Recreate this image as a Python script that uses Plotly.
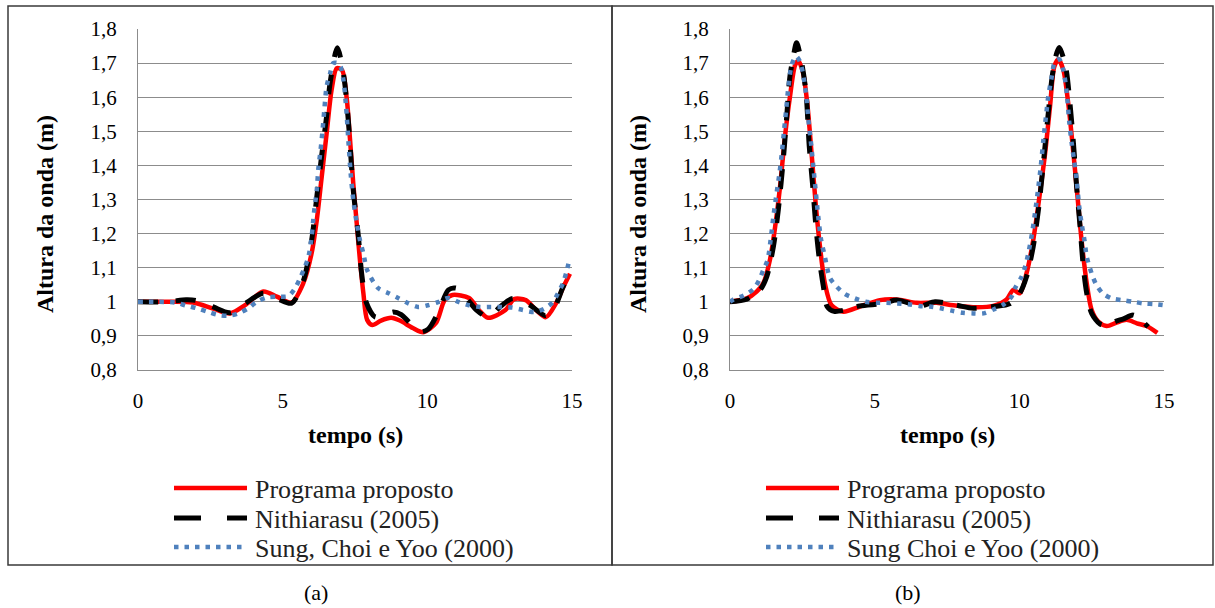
import numpy as np
import plotly.graph_objects as go

# ---------------- data: panel (a) ----------------
a_prog_t = [0, 1.0, 1.9, 2.6, 3.18, 3.7, 4.33, 4.8, 5.31, 5.71, 6.0, 6.18, 6.35, 6.52, 6.69, 6.87, 7.05,
            7.21, 7.33, 7.44, 7.56, 7.67, 7.79, 7.92, 8.1, 8.4, 8.75, 9.05, 9.5, 9.86, 10.3, 10.6, 10.87,
            11.44, 11.78, 12.1, 12.7, 13.0, 13.4, 13.76, 14.1, 14.45, 14.7, 14.93]
a_prog_h = [1.0, 1.0, 0.998, 0.98, 0.966, 0.99, 1.03, 1.015, 0.998, 1.054, 1.142, 1.24, 1.367, 1.494, 1.621,
            1.685, 1.68, 1.60, 1.474, 1.347, 1.23, 1.123, 1.025, 0.947, 0.932, 0.945, 0.953, 0.945, 0.923,
            0.911, 0.938, 1.005, 1.02, 1.011, 0.976, 0.953, 0.976, 1.008, 1.005, 0.976, 0.955, 0.996, 1.043,
            1.082]

a_nith_t = [0, 1.0, 1.66, 2.0, 2.6, 3.18, 3.7, 4.33, 4.8, 5.31, 5.71, 6.0, 6.18, 6.35, 6.52, 6.64, 6.89,
            7.1, 7.27, 7.44, 7.62, 7.73, 7.9, 8.19, 8.5, 8.82, 9.1, 9.35, 9.75, 10.03, 10.38, 10.73, 11.0,
            11.36, 11.71, 12.11, 12.51, 12.95, 13.55, 14.07, 14.35, 14.7, 14.93]
a_nith_h = [1.0, 1.0, 1.006, 1.004, 0.985, 0.968, 0.995, 1.025, 1.01, 0.996, 1.06, 1.18, 1.308, 1.43, 1.545,
            1.643, 1.745, 1.67, 1.53, 1.328, 1.19, 1.083, 0.996, 0.956, 0.958, 0.970, 0.962, 0.942, 0.912,
            0.92, 0.97, 1.035, 1.04, 1.01, 0.975, 0.955, 0.985, 1.01, 0.99, 0.96, 0.975, 1.045, 1.08]

a_sung_t = [0, 0.55, 1.28, 1.66, 2.03, 2.40, 2.74, 3.12, 3.47, 3.81, 4.10, 4.45, 4.85, 5.20, 5.43, 5.60,
            5.75, 5.89, 6.00, 6.08, 6.18, 6.23, 6.31, 6.38, 6.44, 6.52, 6.64, 6.75, 6.9, 7.0, 7.10, 7.19,
            7.27, 7.35, 7.44, 7.56, 7.67, 7.79, 7.92, 8.3, 8.64, 8.99, 9.33, 9.68, 10.02, 10.37, 10.72,
            11.1, 11.44, 11.82, 12.2, 12.58, 12.93, 13.3, 13.69, 14.03, 14.34, 14.52, 14.69, 14.8, 14.9]
a_sung_h = [1.0, 1.0, 0.998, 0.989, 0.981, 0.971, 0.962, 0.959, 0.966, 0.981, 1.0, 1.013, 1.015, 1.017,
            1.04, 1.069, 1.098, 1.132, 1.19, 1.26, 1.328, 1.387, 1.445, 1.504, 1.563, 1.632, 1.67, 1.70,
            1.70, 1.69, 1.65, 1.574, 1.474, 1.377, 1.299, 1.231, 1.181, 1.142, 1.093, 1.04, 1.026, 1.011,
            0.996, 0.985, 0.99, 0.999, 1.011, 0.999, 0.99, 0.985, 0.985, 0.985, 0.983, 0.976, 0.97, 0.979,
            0.999, 1.026, 1.055, 1.085, 1.12]

# ---------------- data: panel (b) ----------------
b_prog_t = [0, 0.58, 0.92, 1.15, 1.38, 1.56, 1.73, 1.90, 2.07, 2.25, 2.36, 2.53, 2.67, 2.82, 2.97, 3.11,
            3.28, 3.51, 3.92, 4.49, 5.18, 5.76, 6.45, 7.14, 7.72, 8.53, 9.10, 9.56, 9.79, 10.02, 10.25,
            10.48, 10.71, 10.89, 11.06, 11.21, 11.35, 11.52, 11.69, 11.87, 12.0, 12.15, 12.33, 12.50,
            12.73, 13.02, 13.36, 13.71, 14.06, 14.40, 14.77]
b_prog_h = [1.0, 1.01, 1.03, 1.054, 1.123, 1.22, 1.338, 1.484, 1.60, 1.694, 1.707, 1.67, 1.582, 1.435,
            1.279, 1.162, 1.054, 0.99, 0.971, 0.986, 1.005, 1.007, 0.997, 0.997, 0.99, 0.984, 0.988, 1.007,
            1.035, 1.025, 1.084, 1.181, 1.318, 1.435, 1.572, 1.69, 1.711, 1.68, 1.582, 1.435, 1.318, 1.181,
            1.054, 0.976, 0.942, 0.929, 0.939, 0.947, 0.937, 0.929, 0.909]

b_nith_t = [0, 0.58, 1.04, 1.27, 1.50, 1.67, 1.84, 1.96, 2.07, 2.21, 2.30, 2.48, 2.63, 2.74, 2.86, 2.97,
            3.09, 3.23, 3.36, 3.6, 3.97, 4.49, 5.3, 5.76, 6.57, 7.09, 7.83, 8.41, 9.10, 9.68, 10.02, 10.25,
            10.48, 10.66, 10.83, 11.0, 11.15, 11.29, 11.38, 11.6, 11.75, 11.87, 11.98, 12.1, 12.21, 12.33,
            12.5, 12.79, 13.07, 13.31, 13.6, 13.94, 14.45]
b_nith_h = [1.0, 1.008, 1.035, 1.074, 1.162, 1.27, 1.416, 1.543, 1.66, 1.729, 1.76, 1.70, 1.61, 1.455,
            1.338, 1.22, 1.123, 1.044, 0.986, 0.972, 0.976, 0.988, 0.995, 1.005, 0.988, 1.0, 0.99, 0.981,
            0.986, 0.995, 1.026, 1.074, 1.162, 1.27, 1.406, 1.553, 1.67, 1.729, 1.746, 1.69, 1.582, 1.465,
            1.338, 1.22, 1.103, 1.025, 0.966, 0.935, 0.932, 0.942, 0.95, 0.961, 0.927]

b_sung_t = [0, 0.12, 0.48, 0.81, 1.01, 1.15, 1.30, 1.41, 1.50, 1.61, 1.71, 1.79, 1.87, 1.94, 2.02, 2.13,
            2.28, 2.42, 2.56, 2.65, 2.71, 2.79, 2.88, 2.97, 3.05, 3.15, 3.28, 3.36, 3.46, 3.69, 3.97, 4.32,
            4.69, 5.07, 5.41, 5.79, 6.16, 6.54, 6.91, 7.28, 7.66, 8.04, 8.41, 8.76, 9.12, 9.42, 9.73, 9.85,
            10.08, 10.2, 10.31, 10.43, 10.54, 10.66, 10.74, 10.83, 10.92, 11.0, 11.12, 11.23, 11.38, 11.52,
            11.64, 11.73, 11.81, 11.89, 11.98, 12.07, 12.15, 12.25, 12.33, 12.5, 12.65, 12.88, 13.19,
            13.54, 13.94, 14.31, 14.69, 15.0]
b_sung_h = [1.0, 1.007, 1.019, 1.037, 1.064, 1.093, 1.123, 1.186, 1.25, 1.318, 1.377, 1.435, 1.504, 1.562,
            1.631, 1.694, 1.72, 1.704, 1.65, 1.592, 1.533, 1.474, 1.396, 1.318, 1.25, 1.181, 1.132, 1.098,
            1.069, 1.044, 1.023, 1.01, 1.0, 0.997, 0.997, 0.995, 0.993, 0.988, 0.986, 0.981, 0.974, 0.968,
            0.966, 0.966, 0.978, 0.99, 1.015, 1.04, 1.074, 1.103, 1.142, 1.196, 1.26, 1.338, 1.396, 1.474,
            1.543, 1.602, 1.66, 1.704, 1.711, 1.68, 1.611, 1.523, 1.465, 1.416, 1.357, 1.279, 1.23, 1.181,
            1.132, 1.083, 1.052, 1.025, 1.01, 1.005, 1.0, 0.995, 0.993, 0.99]

series_names_a = ["Programa proposto", "Nithiarasu (2005)", "Sung, Choi e Yoo (2000)"]
series_names_b = ["Programa proposto", "Nithiarasu (2005)", "Sung Choi e Yoo (2000)"]
y_ticks = [0.8, 0.9, 1.0, 1.1, 1.2, 1.3, 1.4, 1.5, 1.6, 1.7, 1.8]
x_ticks = [0, 5, 10, 15]
captions = ["(a)", "(b)"]
x_title = "tempo (s)"
y_title = "Altura da onda (m)"

# ---------------- styling ----------------
W, H = 1215, 608
FONT = "'Liberation Serif', 'Times New Roman', Times, serif"
RED, BLACK, BLUE = "#FF0000", "#000000", "#4F81BD"
GRID = "#8C8C8C"
SMOOTH = 0.8
PLOT_L = [138, 730]
PLOT_W = 434
PLOT_T, PLOT_B = 29, 370
DASH_ON = 20.0


def px(x):
    return x / W


def py(y):
    return 1 - y / H


def spline_lengths(ts, vs, smooth):
    """Cumulative length (px) of plotly's open spline at every knot, to phase the dash pattern."""
    sx = PLOT_W / 15.0
    sy = (PLOT_B - PLOT_T) / 1.0
    pts = np.array([[t * sx, (1.8 - v) * sy] for t, v in zip(ts, vs)])
    n = len(pts)
    tang = []
    for i in range(1, n - 1):
        d1 = pts[i - 1] - pts[i]
        d2 = pts[i + 1] - pts[i]
        d1a = np.hypot(*d1) ** 0.5
        d2a = np.hypot(*d2) ** 0.5
        num = (d2a * d2a * d1 - d1a * d1a * d2) * smooth
        den1 = 3 * d2a * (d1a + d2a)
        den2 = 3 * d1a * (d1a + d2a)
        tang.append((pts[i] + num / den1, pts[i] - num / den2))
    u = np.linspace(0, 1, 400)[:, None]
    cum = [0.0]

    def seglen(curve):
        return float(np.sum(np.hypot(*np.diff(curve, axis=0).T)))

    q = (1 - u) ** 2 * pts[0] + 2 * (1 - u) * u * tang[0][0] + u ** 2 * pts[1]
    cum.append(cum[-1] + seglen(q))
    for i in range(2, n - 1):
        c = ((1 - u) ** 3 * pts[i - 1] + 3 * (1 - u) ** 2 * u * tang[i - 2][1]
             + 3 * (1 - u) * u ** 2 * tang[i - 1][0] + u ** 3 * pts[i])
        cum.append(cum[-1] + seglen(c))
    q = (1 - u) ** 2 * pts[n - 2] + 2 * (1 - u) * u * tang[n - 3][1] + u ** 2 * pts[n - 1]
    cum.append(cum[-1] + seglen(q))
    return cum


def phased_dash(ts, vs, n_peaks):
    """Pick a gap so that the highest crest(s) of the dashed curve fall in the middle of a dash."""
    cum = spline_lengths(ts, vs, SMOOTH)
    order = np.argsort(vs)[::-1]
    peaks = []
    for idx in order:
        if all(abs(ts[idx] - ts[p]) > 2 for p in peaks):
            peaks.append(idx)
        if len(peaks) == n_peaks:
            break
    best, best_cost = 16.0, 1e9
    for gap in np.arange(12.0, 19.01, 0.05):
        per = DASH_ON + gap
        cost = max(abs((cum[p] % per) - DASH_ON / 2) for p in peaks)
        if cost < best_cost:
            best, best_cost = gap, cost
    return f"{DASH_ON:g}px,{best:.2f}px"


fig = go.Figure()

panels = [
    ("x", "y", [(a_prog_t, a_prog_h), (a_nith_t, a_nith_h), (a_sung_t, a_sung_h)], series_names_a, 1),
    ("x2", "y2", [(b_prog_t, b_prog_h), (b_nith_t, b_nith_h), (b_sung_t, b_sung_h)], series_names_b, 2),
]
for xa, ya, data, names, npk in panels:
    styles = [
        dict(color=RED, width=4.5, dash="solid"),
        dict(color=BLACK, width=5, dash=phased_dash(data[1][0], data[1][1], npk)),
        dict(color=BLUE, width=4.5, dash="4.5px,6.2px"),
    ]
    for (t, h), st, nm in zip(data, styles, names):
        fig.add_trace(go.Scatter(
            x=t, y=h, mode="lines", name=nm, showlegend=False,
            line=dict(color=st["color"], width=st["width"], dash=st["dash"], shape="spline",
                      smoothing=SMOOTH, simplify=False),
            xaxis=xa, yaxis=ya, hoverinfo="skip",
        ))

ydom = [py(PLOT_B), py(PLOT_T)]
axis_common_x = dict(range=[0, 15], tickvals=x_ticks, showgrid=False, zeroline=False, automargin=False,
                     showline=True, linecolor=GRID, linewidth=1.3, ticks="",
                     tickfont=dict(family=FONT, size=21, color="#000"), ticklabelstandoff=12)
axis_common_y = dict(range=[0.8, 1.8], tickvals=y_ticks, showgrid=True, gridcolor=GRID, gridwidth=1.3,
                     zeroline=False, showline=True, linecolor=GRID, linewidth=1.3, ticks="", automargin=False,
                     tickfont=dict(family=FONT, size=21, color="#000"), ticklabelstandoff=16)

fig.update_layout(
    template="none",
    width=W, height=H, autosize=False,
    margin=dict(l=0, r=0, t=0, b=0, pad=0, autoexpand=False),
    paper_bgcolor="white", plot_bgcolor="white",
    separators=", ",
    showlegend=False,
    font=dict(family=FONT),
    xaxis=dict(domain=[px(PLOT_L[0]), px(PLOT_L[0] + PLOT_W)], anchor="y", **axis_common_x),
    yaxis=dict(domain=ydom, anchor="x", **axis_common_y),
    xaxis2=dict(domain=[px(PLOT_L[1]), px(PLOT_L[1] + PLOT_W)], anchor="y2", **axis_common_x),
    yaxis2=dict(domain=ydom, anchor="x2", **axis_common_y),
)

shapes = []
annotations = []
# outer frames
shapes.append(dict(type="rect", xref="paper", yref="paper", x0=px(8), x1=px(612), y0=py(565), y1=py(6),
                   line=dict(color="#3A3A3A", width=1.5)))
shapes.append(dict(type="rect", xref="paper", yref="paper", x0=px(612), x1=px(1213), y0=py(565), y1=py(6),
                   line=dict(color="#3A3A3A", width=1.5)))

# axis titles
for xc, ytx in [(355, 45), (947, 638)]:
    annotations.append(dict(text=f"<b>{x_title}</b>", xref="paper", yref="paper", x=px(xc), y=py(435),
                            xanchor="center", yanchor="middle", showarrow=False,
                            font=dict(family=FONT, size=24, color="#000")))
    annotations.append(dict(text=f"<b>{y_title}</b>", xref="paper", yref="paper", x=px(ytx), y=py(214),
                            xanchor="center", yanchor="middle", showarrow=False, textangle=-90,
                            font=dict(family=FONT, size=24, color="#000")))

for cap, xcap in zip(captions, [316, 908]):
    annotations.append(dict(text=cap, xref="paper", yref="paper", x=px(xcap), y=py(592),
                            xanchor="center", yanchor="middle", showarrow=False,
                            font=dict(family=FONT, size=22, color="#000")))

# legends (drawn per panel)
rows = [488, 518, 547]
leg_style = [(RED, 4.5, "solid"), (BLACK, 5, "27px,26px"), (BLUE, 4.5, "4.5px,6px")]
for x0, names in [(174, series_names_a), (766, series_names_b)]:
    for r, (col, wid, dsh), nm in zip(rows, leg_style, names):
        shapes.append(dict(type="line", xref="paper", yref="paper", x0=px(x0), x1=px(x0 + 73),
                           y0=py(r), y1=py(r), line=dict(color=col, width=wid, dash=dsh)))
        annotations.append(dict(text=nm, xref="paper", yref="paper", x=px(x0 + 79), y=py(r + 1),
                                xanchor="left", yanchor="middle", showarrow=False,
                                font=dict(family=FONT, size=26, color="#222")))

fig.update_layout(shapes=shapes, annotations=annotations)
fig.write_html(
    "out.html",
    config={"responsive": False, "displayModeBar": False},
    post_script=(
        "var s=document.createElement('style');"
        "s.innerHTML='html,body{margin:0!important;padding:0!important;overflow:hidden!important;}';"
        "document.head.appendChild(s);"
    ),
)
